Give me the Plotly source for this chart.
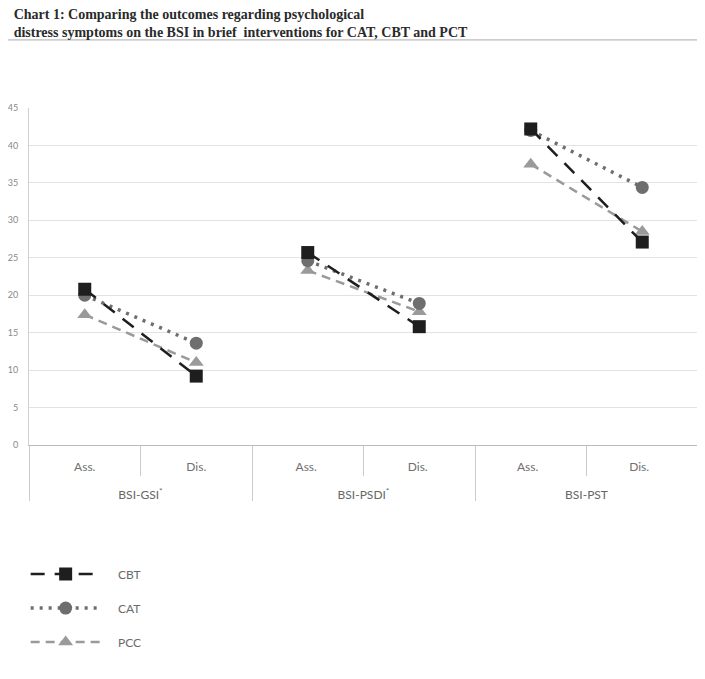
import plotly.graph_objects as go

# scale groups and time points
groups = ['BSI-GSI<sup>*</sup>', 'BSI-PSDI<sup>*</sup>', 'BSI-PST']
points = ['Ass.', 'Dis.']
# one x category per group/time point (trailing spaces keep them distinct)
cats = [p + ' ' * g for g in range(len(groups)) for p in points]

# mean scores
cbt = [20.8, 9.2, 25.7, 15.8, 42.2, 27.1]
cat = [20.0, 13.6, 24.6, 18.9, 42.0, 34.4]
pcc = [17.4, 11.0, 23.3, 17.8, 37.5, 28.5]

fig = go.Figure()

# drawn lightest first so CBT ends up on top; legendrank keeps CBT, CAT, PCC order
series = [
    ('PCC', pcc, 'triangle-up', '#9a9a9a', '9px,6px', 2.5, 3),
    ('CAT', cat, 'circle', '#6e6e6e', '3px,6px', 3.5, 2),
    ('CBT', cbt, 'square', '#1e1e1e', '14px,10px', 2.5, 1),
]

pad = '\u00a0' * 4  # push legend text right like the original

# each assessment/discharge pair is its own segment, only the first goes in the legend
for name, vals, sym, col, dash, lw, rank in series:
    for i in range(0, len(cats), 2):
        fig.add_trace(go.Scatter(
            x=cats[i:i + 2],
            y=vals[i:i + 2],
            mode='lines+markers',
            name=pad + name,
            legendgroup=name,
            legendrank=rank,
            showlegend=(i == 0),
            line=dict(color=col, width=lw, dash=dash),
            marker=dict(symbol=sym, size=13, color=col),
        ))

# empty trace so the group axis has its categories
fig.add_trace(go.Scatter(x=groups, y=[0] * len(groups), xaxis='x2', mode='markers',
                         marker=dict(opacity=0), showlegend=False, hoverinfo='skip'))

fig.update_layout(
    width=705, height=679,
    margin=dict(l=21, r=15, t=100, b=242, autoexpand=False),
    plot_bgcolor='white',
    paper_bgcolor='white',
    font=dict(family='Lato', color='#6a6a6a'),
    title=dict(
        text='<b>Chart 1: Comparing the outcomes regarding psychological<br>'
             'distress symptoms on the BSI in brief  interventions for CAT, CBT and PCT</b>',
        font=dict(family='Liberation Serif', size=14, color='#2a2a2a'),
        x=0.008, xanchor='left', y=0.984, yanchor='top',
    ),
    legend=dict(
        orientation='v',
        x=-0.005, xanchor='left', y=-0.34, yanchor='top',
        itemwidth=70,
        tracegroupgap=15,
        traceorder='grouped',
        font=dict(size=12, color='#6a6a6a'),
    ),
    shapes=[dict(type='line', xref='paper', yref='paper',
                 x0=-0.032, x1=1.0, y0=1.202, y1=1.202,
                 line=dict(color='#aaaaaa', width=1))],
    xaxis=dict(
        type='category', categoryorder='array', categoryarray=cats,
        range=[-0.5, len(cats) - 0.5],
        showgrid=False, automargin=False,
        showline=True, linecolor='#bbbbbb',
        ticks='outside', tickson='boundaries', ticklen=30, tickcolor='#cccccc',
        ticklabelstandoff=11,
        tickfont=dict(size=12, color='#707070'),
    ),
    xaxis2=dict(
        type='category', categoryorder='array', categoryarray=groups,
        range=[-0.5, len(groups) - 0.5],
        overlaying='x', anchor='y', side='bottom',
        showgrid=False, automargin=False,
        ticks='outside', tickson='boundaries', ticklen=55, tickcolor='#cccccc',
        ticklabelstandoff=41,
        tickfont=dict(size=12, color='#666666'),
    ),
    yaxis=dict(
        range=[0, 45], dtick=5, automargin=False,
        showgrid=True, gridcolor='#e2e2e2', gridwidth=1,
        zeroline=True, zerolinecolor='#bbbbbb',
        showline=True, linecolor='#d0d0d0', mirror=True,
        tickfont=dict(size=9, color='#888888'),
        ticks='', ticklabelstandoff=8,
    ),
)

fig.write_html('out.html')
